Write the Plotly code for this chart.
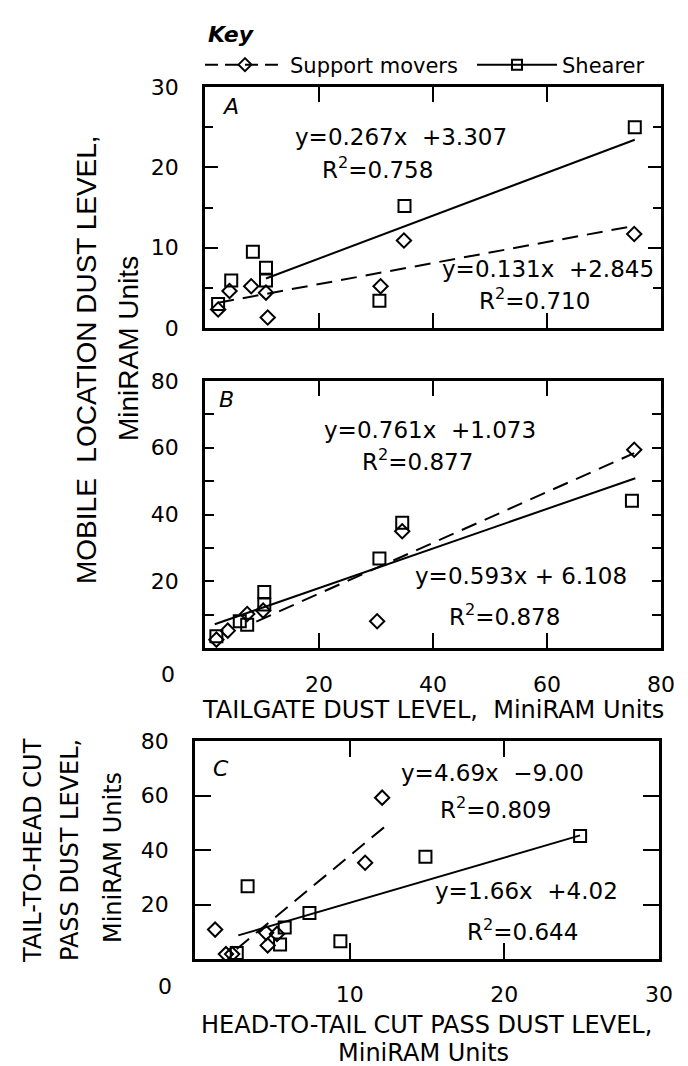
import plotly.graph_objects as go

# ---------------- data ----------------
# Panel A: tailgate dust level (x) vs mobile location dust level (y)
shearer_a_x = [2.3, 4.6, 8.4, 10.7, 10.7, 30.6, 35.0, 75.4]
shearer_a_y = [3.0, 5.9, 9.5, 7.5, 5.9, 3.4, 15.2, 25.0]
support_a_x = [2.3, 4.3, 8.1, 10.7, 11.0, 30.8, 34.9, 75.3]
support_a_y = [2.3, 4.6, 5.2, 4.4, 1.3, 5.2, 10.9, 11.7]

# Panel B
shearer_b_x = [2.0, 6.1, 7.4, 10.4, 10.4, 30.6, 34.6, 74.9]
shearer_b_y = [3.5, 8.0, 7.0, 13.0, 16.8, 26.8, 37.5, 44.1]
support_b_x = [2.0, 4.0, 7.4, 10.2, 30.2, 34.6, 75.3]
support_b_y = [2.5, 5.2, 10.2, 11.2, 8.0, 35.0, 59.4]

# Panel C: head-to-tail (x) vs tail-to-head (y)
shearer_c_x = [2.7, 3.4, 5.5, 5.8, 7.4, 9.4, 14.9, 24.9]
shearer_c_y = [2.2, 26.7, 5.3, 11.6, 16.9, 6.5, 37.5, 45.1]
support_c_x = [1.3, 2.0, 2.4, 4.6, 4.7, 5.3, 11.0, 12.1]
support_c_y = [10.8, 1.8, 1.8, 9.6, 5.0, 9.2, 35.3, 59.2]

# regression lines: slope, intercept, x start, x end
fit_a_shearer = (0.267, 3.307, 10.7, 75.4)
fit_a_support = (0.131, 2.845, 2.3, 75.3)
fit_b_shearer = (0.593, 6.108, 1.7, 75.5)
fit_b_support = (0.761, 1.073, 9.0, 75.3)
fit_c_shearer = (1.66, 4.02, 2.8, 24.9)
fit_c_support = (4.69, -9.00, 2.7, 12.3)

eq_labels = {
    "a_shearer": ("y=0.267x\u00a0\u00a0+3.307", "R<sup>2</sup>=0.758"),
    "a_support": ("y=0.131x\u00a0\u00a0+2.845", "R<sup>2</sup>=0.710"),
    "b_support": ("y=0.761x\u00a0\u00a0+1.073", "R<sup>2</sup>=0.877"),
    "b_shearer": ("y=0.593x + 6.108", "R<sup>2</sup>=0.878"),
    "c_support": ("y=4.69x\u00a0\u00a0\u22129.00", "R<sup>2</sup>=0.809"),
    "c_shearer": ("y=1.66x\u00a0\u00a0+4.02", "R<sup>2</sup>=0.644"),
}

# ---------------- layout helpers ----------------
W, H = 688, 1066
def fx(p):
    return p / W
def fy(p):
    return 1 - p / H

FONT = "DejaVu Sans"
BLACK = "black"
DASH = "16px,9px"

fig = go.Figure()

def add_panel(xa, ya, sh_x, sh_y, su_x, su_y, fit_sh, fit_su):
    for (m, b, x0, x1), dash in ((fit_sh, "solid"), (fit_su, DASH)):
        fig.add_trace(go.Scatter(x=[x0, x1], y=[m * x0 + b, m * x1 + b], mode="lines",
                                 line=dict(color=BLACK, width=2, dash=dash),
                                 xaxis=xa, yaxis=ya, showlegend=False, hoverinfo="skip"))
    fig.add_trace(go.Scatter(x=su_x, y=su_y, mode="markers",
                             marker=dict(symbol="diamond-open", size=11, color=BLACK,
                                         line=dict(width=2, color=BLACK)),
                             xaxis=xa, yaxis=ya, showlegend=False))
    fig.add_trace(go.Scatter(x=sh_x, y=sh_y, mode="markers",
                             marker=dict(symbol="square-open", size=12, color=BLACK,
                                         line=dict(width=2, color=BLACK)),
                             xaxis=xa, yaxis=ya, showlegend=False))

add_panel("x", "y", shearer_a_x, shearer_a_y, support_a_x, support_a_y, fit_a_shearer, fit_a_support)
add_panel("x2", "y2", shearer_b_x, shearer_b_y, support_b_x, support_b_y, fit_b_shearer, fit_b_support)
add_panel("x3", "y3", shearer_c_x, shearer_c_y, support_c_x, support_c_y, fit_c_shearer, fit_c_support)

# legend ("Key") entries
fig.add_trace(go.Scatter(x=[None], y=[None], mode="lines+markers", name="Support movers",
                         line=dict(color=BLACK, width=2, dash="13px,7px"),
                         marker=dict(symbol="diamond-open", size=10, color=BLACK, line=dict(width=2))))
fig.add_trace(go.Scatter(x=[None], y=[None], mode="lines+markers", name="Shearer",
                         line=dict(color=BLACK, width=2),
                         marker=dict(symbol="square-open", size=10, color=BLACK, line=dict(width=2))))

axis_common = dict(showline=True, linewidth=2.5, linecolor=BLACK, mirror="ticks",
                   ticks="inside", tickwidth=2, tickcolor=BLACK, showgrid=False,
                   zeroline=False, tickfont=dict(family=FONT, size=22, color=BLACK))
minor_common = dict(ticks="inside", tickwidth=2, tickcolor=BLACK, showgrid=False)

fig.update_layout(
    width=W, height=H, autosize=False,
    margin=dict(l=0, r=0, t=0, b=0, autoexpand=False),
    paper_bgcolor="white", plot_bgcolor="white",
    font=dict(family=FONT, color=BLACK),
    showlegend=True,
    legend=dict(orientation="h", x=fx(192), xanchor="left", y=fy(57), yanchor="middle",
                font=dict(family=FONT, size=21, color=BLACK), bgcolor="rgba(0,0,0,0)",
                itemwidth=80, entrywidth=177, entrywidthmode="pixels", tracegroupgap=0),
    xaxis=dict(axis_common, domain=[fx(197), fx(653)], range=[0, 80], tickvals=[20, 40, 60],
               showticklabels=False, ticklen=15, anchor="y"),
    yaxis=dict(axis_common, domain=[fy(320), fy(79)], range=[0, 30], tickvals=[0, 10, 20, 30],
               ticklen=13, ticklabelstandoff=19, anchor="x",
               minor=dict(minor_common, tickvals=[5, 15, 25], ticklen=8)),
    xaxis2=dict(axis_common, domain=[fx(197), fx(653)], range=[0, 80], tickvals=[20, 40, 60, 80],
                ticklen=15, ticklabelstandoff=15, anchor="y2"),
    yaxis2=dict(axis_common, domain=[fy(640), fy(373)], range=[0, 80],
                tickvals=[20, 40, 60, 80], ticklen=9, ticklabelstandoff=19, anchor="x2",
                minor=dict(minor_common, tickvals=[10, 30, 50, 70], ticklen=9)),
    xaxis3=dict(axis_common, domain=[fx(187), fx(651)], range=[0, 30], tickvals=[10, 20, 30],
                ticklen=16, ticklabelstandoff=14, anchor="y3"),
    yaxis3=dict(axis_common, domain=[fy(951), fy(733)], range=[0, 80], tickvals=[20, 40, 60, 80],
                ticklen=16, ticklabelstandoff=19, anchor="x3"),
)

ann = []
def text(x, y, s, size=23, angle=0, family=FONT, style="normal", weight="normal"):
    ann.append(dict(x=fx(x), y=fy(y), xref="paper", yref="paper", text=s, showarrow=False,
                    xanchor="center", yanchor="middle", textangle=angle,
                    font=dict(family=family, size=size, color=BLACK, style=style, weight=weight)))

# key title
text(223, 26, "Key", size=22, style="italic", weight="bold")
# panel letters
text(222, 98, "A", size=22, style="italic")
text(218, 392, "B", size=22, style="italic")
text(213, 760, "C", size=22, style="italic")
# equations
text(393, 129, eq_labels["a_shearer"][0]); text(370, 160, eq_labels["a_shearer"][1])
text(540, 261, eq_labels["a_support"][0]); text(526, 291, eq_labels["a_support"][1])
text(422, 422, eq_labels["b_support"][0]); text(410, 452, eq_labels["b_support"][1])
text(513, 568, eq_labels["b_shearer"][0]); text(497, 607, eq_labels["b_shearer"][1])
text(484, 765, eq_labels["c_support"][0]); text(487, 800, eq_labels["c_support"][1])
text(518, 883, eq_labels["c_shearer"][0]); text(514, 922, eq_labels["c_shearer"][1])
# shared zero labels
text(160, 666, "0", size=22)
text(157, 978, "0", size=22)
# axis titles
text(425, 702, "TAILGATE DUST LEVEL,\u00a0 MiniRAM Units", size=24)
text(418, 1017, "HEAD-TO-TAIL CUT PASS DUST LEVEL,", size=24)
text(415, 1045, "MiniRAM Units", size=24)
text(78, 352, "MOBILE\u00a0 LOCATION DUST LEVEL,", size=28, angle=-90,
     family="Liberation Sans")
text(120, 341, "MiniRAM Units", size=28, angle=-90, family="Liberation Sans")
text(25, 843, "TAIL-TO-HEAD CUT", size=24, angle=-90)
text(62, 842, "PASS DUST LEVEL,", size=24, angle=-90)
text(105, 850, "MiniRAM Units", size=24, angle=-90)

fig.update_layout(annotations=ann)
fig.write_html("out.html", config={"displayModeBar": False})
